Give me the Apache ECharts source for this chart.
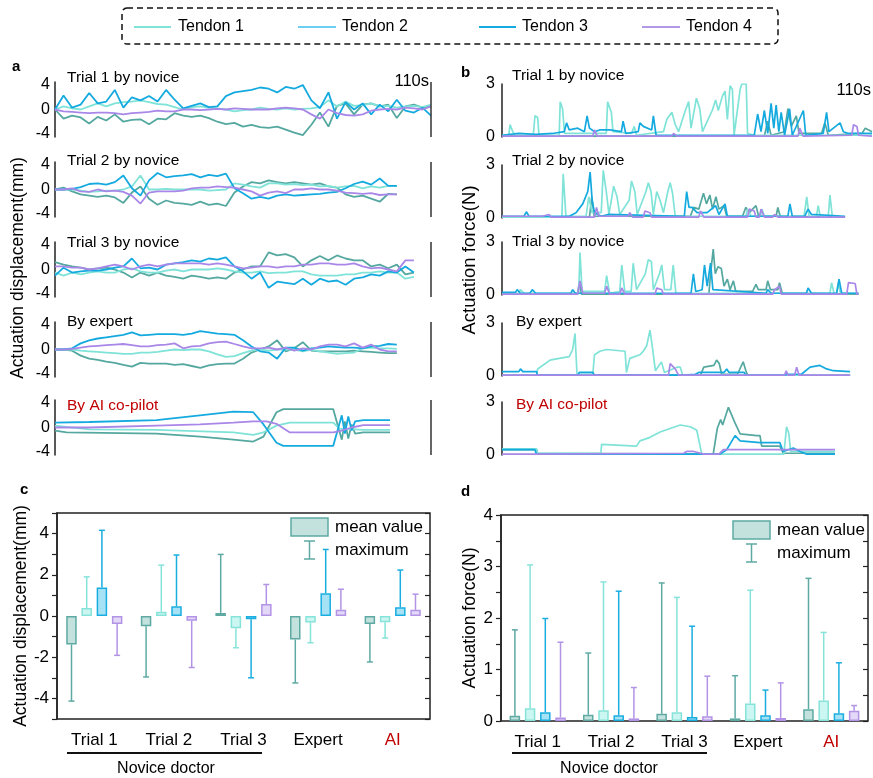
<!DOCTYPE html>
<html>
<head>
<meta charset="utf-8">
<script src="https://cdn.jsdelivr.net/npm/echarts@6/dist/echarts.min.js"></script>
<style>
html,body{margin:0;padding:0;background:#fff;}
#main{width:873px;height:778px;}
</style>
</head>
<body>
<div id="main"></div>
<script>
// 时间网格 (s)
var T = [0,2.5,5,7.5,10,12.5,15,17.5,20,22.5,25,27.5,30,32.5,35,37.5,40,42.5,45,47.5,50,52.5,55,57.5,60,62.5,65,67.5,70,72.5,75,77.5,80,82.5,85,87.5,90,92.5,95,97.5,100,102.5,105,107.5,110];

// a: displacement (mm), values on T
var a1Teal = [0,-1.5,-1,-1.3,-2.3,-1.2,-1.8,-0.8,-2,-1.7,-1.6,-2.4,-1.5,-1.6,-0.6,-1,-1.2,-1,-1.4,-2,-2.4,-2.2,-2.8,-2.5,-2.9,-3,-2.8,-3.3,-3.8,-4.2,-2.5,-0.5,-2.8,0.6,1,-0.8,0.8,1,0.5,0.8,-1.4,0.5,0.8,0.3,0.5];
var a1Aqua = [0,0.5,0.2,0,0.5,1,0.5,1,1.2,1.3,1.5,1.2,0.9,0.8,0.4,0,0.4,0.5,0.3,0.2,0,-0.3,-0.1,0,0.3,0.1,0,0.2,0,0.1,0.2,0.4,1.5,0.5,1.3,0.6,0.7,1,0.5,0.6,0.3,0.5,0.6,0.4,0.8];
var a1Blue = [0,2.3,0.3,0.8,2.7,1,1.3,3.2,0.3,2,1.5,2.2,1.3,3.2,1.6,0.2,0.6,1,0.4,0.5,2.2,2.8,3,3.2,3.6,3.4,2.8,3.7,3.4,4,1.5,0.2,2.8,-1.5,1.2,0,1,-0.8,0.8,-0.3,1.6,-0.2,-0.5,0.3,-1];
var a1Purple = [0,-0.3,-0.4,-0.5,-0.6,-0.5,-0.5,-0.6,-0.8,-0.6,-0.5,-0.4,-0.2,-0.3,-0.3,0,0,-0.1,0,0.1,0,0.2,0.1,0,0,0,0.2,0.3,0.2,0,-0.8,-1.5,0,-0.6,-0.9,-1,-0.8,-0.2,0,0.1,0,0.3,0.2,0,0.5];

var a2Teal = [0,0.3,-0.3,-0.8,-1,-1.2,-1,-1.3,-2.2,-0.5,0.5,-1.5,-2.5,-1.8,-2.2,-2.3,-2.5,-2,-2.5,-2.3,-2.7,-0.5,0.5,1.2,1,1.5,1.2,1,1.2,1,0.8,1,0.5,0.3,-0.8,-1.2,-1,-1.5,-2,-0.7,-0.8];
var a2Aqua = [0,0,0,-0.2,-0.4,-0.3,-0.2,-0.2,0,0.5,2.3,0,0,0.1,0,0,0,0,-0.2,-0.1,0,1,0.8,0.5,0.3,1,1,0.8,0.9,0.7,0.8,0.5,0.6,0.3,0.5,0.6,0.2,0.5,0.3,0.6,0.6];
var a2Blue = [0,0,0.1,0.4,0.9,1,0.8,1.2,2.3,0.2,-1,1.5,2.7,2,2.2,2.3,2.5,2,2.4,2.2,2.6,0.2,-0.6,-1.5,-1.2,-1.5,-1,-0.8,-1,-0.9,-0.8,-0.7,-0.5,-0.4,0.2,0.9,1.3,0.8,1.8,0.6,0.6];
var a2Purple = [0,0,0.2,-0.3,-0.4,0,-0.3,-0.2,-0.4,-1,-2.3,-0.5,-0.3,-0.3,-0.3,-0.2,0.2,0.3,0.3,0.5,0.4,0.3,0,-0.3,-1,-0.5,-0.3,-0.6,0,0,0.2,0,0,-0.2,-0.5,-0.6,-0.7,-0.6,-0.9,-0.8,-0.8];

var a3Teal = [1.2,0.8,0.5,0.3,0,0.2,0.3,0,-0.5,-1.3,-0.5,-1,-0.5,-1,-1.2,-1.5,-1,-1.2,-1.5,-1.3,-1.5,-0.5,0,0.5,0.5,2.8,2.3,2.5,2,0.5,1.5,2.2,1.5,2.3,1.8,1.5,1.5,0.5,0.8,0.2,0.8,-0.8,-0.5];
var a3Aqua = [-0.5,-1,-0.5,-0.8,-0.5,-0.3,-0.5,-0.5,0,0.2,-0.3,-0.5,-0.5,-0.2,0,-0.3,0,0,0,0.2,0,-0.3,-0.5,-0.5,-0.3,-0.6,-0.5,-0.5,-0.3,-0.3,-0.8,-1,-1,-1,-0.8,-0.8,-0.5,-0.5,-0.3,-0.5,-0.5,-1.5,-1.2];
var a3Blue = [-1,0.3,-0.5,-0.3,-0.2,-0.2,0,0.3,0.5,1.8,0.2,0.3,0,0.8,1,1.2,1.5,1.3,1.8,1.6,2,0.5,-0.3,-1.5,-0.5,-3,-2,-2.2,-2.4,-1.5,-2.5,-1.5,-2,-1.8,-2.5,-1.5,-1.3,-0.8,-1,-0.3,-0.5,0.5,-0.5];
var a3Purple = [0.5,0.5,0.3,0.3,0,0.2,0.5,0.8,0.5,0,0.5,0.8,0.5,0.8,1,1,1,1,0.8,1,0.8,0.5,0.2,0.3,0.5,0.5,0.3,0.5,0.5,0.8,0.8,1,1,0.8,0.8,1,0.5,0.2,0.3,0,-0.3,1.5,1.5];

var a4Teal = [0,0,-0.2,-1,-1.5,-1.7,-2,-2.2,-2.5,-2.8,-2.2,-2.3,-2.3,-2.3,-2.5,-2.4,-2.7,-3,-2.6,-2.4,-2.3,-2.3,-1.5,-0.5,0,0.5,1.5,-0.3,0.2,1.2,-0.2,-0.3,-0.3,-0.3,-0.3,-0.2,-0.3,-0.4,-0.5,-0.6,-0.6];
var a4Aqua = [0,0,0,-0.2,-0.3,-0.4,-0.5,-0.6,-0.7,-0.7,-0.5,-0.5,-0.4,-0.2,0,-0.1,0,0,-0.3,-0.8,-1.2,-1.1,-0.6,-0.2,0,-0.2,0,0,0,-0.3,0,-0.3,-0.5,-0.7,-0.6,-0.5,0.2,0.3,0.2,0.2,0.1];
var a4Blue = [0,0,0.2,1,1.5,1.8,2,2.2,2.4,2.8,2.3,2.4,2.5,2.5,2.5,2.4,2.6,3,2.8,2.6,2.5,2.4,1.5,0.5,-0.3,-0.5,-1.5,0.3,0.3,-0.2,0.2,0.3,0.5,0.4,0.3,0.3,0.2,0.5,0.6,0.9,0.8];
var a4Purple = [0,0,0.1,0.3,0.5,0.6,0.7,0.8,0.9,0.7,0.5,0.5,0.7,0.8,1,0.2,0.5,0.6,1,1.2,1.3,0.9,0.5,0.2,0.2,0.3,0,0.3,-0.2,0.2,0,0.5,0.8,0.8,0.5,1,0.3,0.8,0,-0.3,-0.3];

// AI co-pilot: [t, mm]
var a5Teal = [[0,-0.5],[3.4,-0.8],[29.7,-1],[42.4,-1.5],[52.2,-2],[58,-2.3],[61,-1.5],[64.8,2.5],[66.8,3],[81.4,3],[82.9,0],[83.9,-2],[84.8,1],[85.8,-1.8],[86.8,0.5],[87.8,-1],[90.2,-0.8],[98,-0.8]];
var a5Aqua = [[0,0.3],[10,-0.3],[29.7,-0.4],[52.2,-0.8],[58,-1.2],[61,-0.8],[64.8,0.3],[68.7,0.8],[81.4,0.8],[83.3,-0.2],[90.2,-0.4],[98,-0.4]];
var a5Blue = [[0,0.8],[10,0.9],[29.7,1.2],[42.4,2],[52.2,2.6],[58,2.5],[61,0.5],[64.8,-2.5],[66.8,-3],[81.4,-3],[82.9,0],[83.9,2],[84.8,-1],[85.8,1.8],[86.8,-0.5],[87.8,1],[90.2,1.2],[98,1.2]];
var a5Purple = [[0,0],[10,0],[29.7,0.3],[42.4,0.5],[52.2,0.8],[58,1],[61.9,1],[64.8,0.6],[68.7,-0.8],[81.4,-0.8],[83.3,-0.6],[86.8,0],[90.2,0.4],[98,0.4]];

// b: force (N), [t, N]
var b1Teal = [[0,0.05],[78,0.05],[79,0.9],[80,0.1],[84,0.3],[85,1.6],[86,0.6],[87.5,1.2],[88.3,0.2],[95,0.2],[96,0.8],[97,0.1],[107,0.2],[108,0.5],[110,0.3]];
var b1Aqua = [[0,0.1],[2,0.1],[2.4,0.7],[3.2,0.3],[4,0.1],[9.3,0.1],[9.8,1.2],[10.6,1.1],[11,0.1],[17,0.1],[17.3,2],[18,1.6],[18.6,0.2],[31,0.2],[31.4,2],[32.5,1.4],[33,0.3],[38.5,0.2],[39.3,0.6],[40,0.1],[48,0.3],[49,1],[50.5,1.4],[51.5,0.7],[52.5,0.3],[54.5,1.5],[55.5,2],[56.2,0.5],[57.8,2.2],[58.8,1.6],[59.6,0.3],[62.5,1.5],[63.5,2.1],[64.3,1.5],[65.5,2.3],[66.3,2.6],[67,1],[67.8,2.9],[68.5,2.7],[69,0.1],[70.8,2.7],[71.3,3],[72.6,3],[73,0.2],[75,0.1],[110,0.1]];
var b1Blue = [[0,0.1],[5,0.2],[10,0.15],[15,0.2],[18.5,0.3],[19.2,0.8],[20,0.4],[22.5,0.5],[24.5,0.3],[25.3,1.2],[26,0.5],[27.5,0.3],[29,0.4],[32,0.4],[35.5,0.3],[36,0.9],[36.8,0.2],[40.5,0.3],[41,0.8],[42,0.6],[44.5,0.4],[45,1.2],[45.8,0.1],[75,0.1],[76,1.3],[77,0.3],[78,1.5],[79,0.2],[80,1.9],[80.8,0.5],[81.5,1.8],[82.3,0.3],[83,1.4],[84,0.1],[85.5,1.6],[86.3,0.1],[89.6,1.5],[90.3,0.1],[95.5,0.2],[96.5,1.4],[97.2,0.3],[100.5,0.8],[101.5,0.3],[103,0.2],[110,0.2]];
var b1Purple = [[0,0.05],[27,0.05],[27.5,0.4],[28.3,0.05],[50.5,0.05],[51,0.2],[52,0.05],[88,0.05],[88.5,0.5],[89.5,0.05],[104,0.1],[104.5,0.7],[105.5,0.6],[106,0.1],[110,0.05]];

var b2Teal = [[0,0.05],[26,0.05],[26.7,1.2],[27.4,0.1],[56,0.1],[57,0.6],[58.5,0.5],[59.9,1.4],[60.8,0.8],[61.8,1.3],[62.6,0.5],[63.6,1.2],[64.5,0.5],[66,0.7],[66.8,0.1],[71.5,0.1],[72.5,0.6],[73.5,0.3],[75.5,0.7],[76.3,0.1],[81.5,0.1],[82,0.6],[82.7,0.1],[102,0.05]];
var b2Aqua = [[0,0.05],[17.8,0.05],[18.2,2.5],[19,0.1],[25,0.1],[25.8,1.2],[26.8,0.3],[29.5,0.3],[30.1,2.7],[31,1.5],[31.8,0.2],[33.2,1.8],[34.2,1.2],[35,0.2],[37.8,1],[38.5,2.1],[39.5,1.5],[40.2,0.2],[42.8,1.5],[43.5,2],[44.3,1.5],[45,0.2],[46,1.5],[47,1],[48,0.3],[49.3,1.5],[50,2],[50.7,1.4],[51.5,0.1],[72.5,0.1],[73,0.5],[74,0.1],[76.8,0.1],[77.3,0.5],[78,0.1],[89.8,0.1],[90.6,1.2],[91.3,0.1],[93.5,0.1],[94,0.7],[94.6,0.1],[97,0.1],[97.5,1.3],[98.2,0.1],[102,0.05]];
var b2Blue = [[0,0.1],[6.5,0.1],[7.3,0.35],[8,0.1],[20,0.1],[22,0.3],[24,0.8],[25.5,1.5],[26.2,2.6],[26.8,1],[27.5,0.3],[29.5,0.1],[31.5,0.2],[32,0.1],[54.2,0.1],[54.9,1.5],[55.6,0.6],[56.5,0.6],[58,0.3],[61,0.3],[63.5,0.7],[64.5,0.2],[66.3,0.8],[67,0.1],[85,0.1],[85.6,0.8],[86.3,0.1],[90,0.1],[91,0.5],[92,0.2],[102,0.1]];
var b2Purple = [[0,0.1],[4.5,0.1],[5,0.2],[6,0.1],[12,0.1],[12.5,0.2],[14,0.2],[14.5,0.05],[27.5,0.05],[28.1,0.6],[28.8,0.1],[37.5,0.1],[38,0.3],[38.8,0.05],[42,0.05],[42.5,0.4],[44,0.3],[44.5,0.05],[58.5,0.05],[59,0.4],[60,0.05],[73,0.05],[73.5,0.5],[75,0.4],[75.5,0.05],[76.5,0.05],[77,0.5],[78,0.05],[80.5,0.05],[81,0.2],[82,0.05],[102,0.05]];

var b3Teal = [[0,0.05],[22.5,0.05],[23,0.8],[23.6,0.05],[61.5,0.05],[62,1.2],[62.8,2.6],[63.4,1.2],[64.2,1.6],[65.2,1.5],[66,0.5],[67,0.9],[67.8,0.3],[68.8,0.8],[69.5,0.2],[74.5,0.2],[75.5,0.6],[76.2,0.3],[78.5,0.3],[79,0.8],[79.8,0.3],[82,0.3],[82.5,0.7],[83.3,0.1],[106,0.05]];
var b3Aqua = [[0,0.1],[5,0.1],[5.5,0.3],[6.5,0.1],[22.8,0.1],[23.2,2.4],[23.8,0.2],[30.5,0.2],[31.1,1.1],[32,0.1],[35,0.2],[35.6,1.7],[36.5,0.2],[38.4,0.2],[39,1.8],[40,0.3],[42.6,1.2],[43.5,2],[44.4,1.9],[45,0.3],[46.8,1.2],[47.5,1.7],[48.3,0.3],[50.2,0.3],[50.9,1.7],[51.7,0.1],[97.5,0.1],[98,0.7],[98.7,0.1],[99.5,0.1],[100,0.7],[100.6,0.1],[106,0.1]];
var b3Blue = [[0,0.15],[4,0.15],[4.5,0.3],[5.5,0.1],[8.3,0.1],[9,0.3],[10,0.1],[20.5,0.1],[21,0.3],[21.8,0.1],[56.2,0.1],[56.9,1.2],[57.6,0.2],[59.5,0.3],[60.2,1.7],[61,0.5],[62,1.8],[62.7,0.3],[78.5,0.1],[79,0.3],[80,0.1],[90.5,0.1],[91,0.4],[92,0.1],[99.5,0.1],[100.2,0.9],[101,0.1],[106,0.1]];
var b3Purple = [[0,0.05],[22.5,0.05],[23.2,0.8],[24,0.1],[30.5,0.1],[31.1,0.5],[32,0.05],[35,0.05],[35.6,0.4],[36.5,0.05],[45.5,0.05],[46,0.4],[47.5,0.3],[48,0.05],[80.5,0.05],[81,0.3],[82.5,0.5],[83,0.05],[102.5,0.05],[103,0.7],[105,0.65],[105.5,0.05],[106,0.05]];

var b4Teal = [[0,0.05],[59,0.05],[60,0.5],[63,0.6],[63.8,0.9],[64.6,0.7],[65.3,0.1],[70,0.1],[71.7,0.8],[72.5,0.3],[73,0.05],[103.5,0.05]];
var b4Aqua = [[0,0.05],[10.3,0.05],[10.6,0.4],[14.3,0.9],[17,1],[20,1.1],[21,1.5],[21.7,2.4],[22.3,0.1],[27,0.1],[27.5,1.2],[29.1,1.4],[31,1.5],[36.6,1.4],[37,0.2],[38,1],[41,1.2],[42,1.4],[43,1.7],[44,2.6],[44.8,1.5],[45.6,0.3],[47.4,0.8],[48.3,0.2],[52,0.5],[53,0.5],[53.7,0.05],[103.5,0.05]];
var b4Blue = [[0,0.25],[5,0.25],[5.5,0.4],[6.2,0.25],[10.3,0.25],[10.5,0.05],[22.5,0.05],[23,0.2],[27,0.2],[27.5,0.05],[54,0.05],[57.5,0.1],[58.5,0.2],[63,0.2],[66,0.2],[66.8,0.4],[67.5,0.2],[72,0.2],[72.5,0.05],[84,0.05],[85,0.1],[89,0.1],[91.6,0.5],[94.5,0.6],[96.5,0.4],[98.5,0.3],[103.5,0.25]];
var b4Purple = [[0,0.05],[49.5,0.05],[50,0.7],[51.5,0.4],[52.5,0.05],[84,0.05],[84.5,0.3],[85,0.05],[87,0.05],[87.6,0.5],[88.3,0.05],[103.5,0.05]];

var b5Teal = [[0,0.3],[10.3,0.3],[10.5,0.1],[62.8,0.05],[64,1.5],[65,2],[65.6,1.7],[67.3,2.7],[68.2,2.3],[69.3,1.8],[70.8,1.2],[75.7,1.1],[76.7,1.1],[77.2,0.5],[82.6,0.5],[83.6,0.1],[99,0.1]];
var b5Aqua = [[0,0.35],[10.3,0.35],[10.5,0.1],[29.4,0.1],[29.6,0.6],[40,0.5],[41,0.8],[44,1],[47,1.3],[50,1.5],[53,1.7],[56,1.6],[57.9,1.4],[59.4,0.05],[83.8,0.05],[84.6,1.6],[85.3,1.2],[85.8,0.2],[99,0.2]];
var b5Blue = [[0,0.3],[9.8,0.3],[10.2,0.05],[64.8,0.05],[66.8,0.3],[69.3,1.1],[70.8,0.8],[76.7,0.7],[82.6,0.7],[83.6,0.2],[86.6,0.4],[88.6,0.2],[90.6,0.05],[99,0.05]];
var b5Purple = [[0,0.05],[10,0.05],[10.5,0.1],[54,0.1],[54.9,0.2],[57,0.2],[60,0.05],[64.5,0.05],[65.8,0.3],[99,0.3]];

// c / d: mean and maximum per tendon
var groups = ['Trial 1','Trial 2','Trial 3','Expert','AI'];
var cMean1 = [-1.38,-0.5,0.15,-1.14,-0.39];
var cMean2 = [0.39,0.21,-0.6,-0.31,-0.3];
var cMean3 = [1.38,0.47,-0.16,1.11,0.42];
var cMean4 = [-0.39,-0.23,0.58,0.3,0.3];
var cMax1 = [-4.13,-2.96,2.99,-3.25,-2.23];
var cMax2 = [1.9,2.47,-1.54,-1.3,-1.07];
var cMax3 = [4.16,2.96,-3.0,3.23,2.23];
var cMax4 = [-1.91,-2.5,1.53,1.3,1.06];
var dMean1 = [0.1,0.12,0.14,0.05,0.23];
var dMean2 = [0.25,0.21,0.17,0.34,0.4];
var dMean3 = [0.17,0.11,0.08,0.11,0.15];
var dMean4 = [0.07,0.05,0.09,0.06,0.2];
var dMax1 = [1.77,1.32,2.68,0.88,2.77];
var dMax2 = [3.03,2.7,2.4,2.54,1.72];
var dMax3 = [1.99,2.52,1.84,0.6,1.13];
var dMax4 = [1.53,0.65,0.87,0.74,0.3];

var FONT = '"Liberation Sans", Arial, sans-serif';
var lineColors = ['#55a8a0','#7fe3d8','#15aadf','#a987e8'];
var legendColors = ['#7fe3d8','#6ccff2','#15aadf','#b398e6'];
var barFill = ['#c3e1dd','#ccf6f1','#a6e2f6','#e3d8f7'];
var barLine = ['#5eaaa3','#86e3d9','#1aaee0','#b393e6'];

function onGrid(vals){
    return vals.map(function(v,i){ return [T[i], v]; });
}

function label(x, y, str, size, opt){
    opt = opt || {};
    return {
        type:'text', x:x, y:y, rotation:opt.rot || 0, silent:true, z:10,
        style:{text:str, fill:opt.color || '#000', font:(opt.bold ? 'bold ' : '') + size + 'px ' + FONT,
            align:opt.align || 'left', verticalAlign:'middle'}
    };
}
function seg(x1, y1, x2, y2, color, w){
    return {type:'line', silent:true, z:10, shape:{x1:x1,y1:y1,x2:x2,y2:y2}, style:{stroke:color, lineWidth:w}};
}

var leftPanels = [
    {title:'Trial 1 by novice', top:82, ty:78, lines:[onGrid(a1Teal),onGrid(a1Aqua),onGrid(a1Blue),onGrid(a1Purple)]},
    {title:'Trial 2 by novice', top:162, ty:161, lines:[onGrid(a2Teal),onGrid(a2Aqua),onGrid(a2Blue),onGrid(a2Purple)]},
    {title:'Trial 3 by novice', top:242, ty:243, lines:[onGrid(a3Teal),onGrid(a3Aqua),onGrid(a3Blue),onGrid(a3Purple)]},
    {title:'By expert', top:322, ty:322, lines:[onGrid(a4Teal),onGrid(a4Aqua),onGrid(a4Blue),onGrid(a4Purple)]},
    {title:'By AI co-pilot', top:400, ty:406, red:true, lines:[a5Teal,a5Aqua,a5Blue,a5Purple]}
];
var rightPanels = [
    {title:'Trial 1 by novice', top:84, ty:76, tx:512, lines:[b1Teal,b1Aqua,b1Blue,b1Purple]},
    {title:'Trial 2 by novice', top:165, ty:161, tx:512, lines:[b2Teal,b2Aqua,b2Blue,b2Purple]},
    {title:'Trial 3 by novice', top:242, ty:242, tx:512, lines:[b3Teal,b3Aqua,b3Blue,b3Purple]},
    {title:'By expert', top:323, ty:322, tx:516, lines:[b4Teal,b4Aqua,b4Blue,b4Purple]},
    {title:'By AI co-pilot', top:402, ty:405, tx:516, red:true, lines:[b5Teal,b5Aqua,b5Blue,b5Purple]}
];

var grids = [], xAxes = [], yAxes = [], series = [], graphics = [];

leftPanels.forEach(function(p, i){
    grids.push({left:55, top:p.top, width:376, height:55, containLabel:false, outerBoundsMode:'none'});
    xAxes.push({gridIndex:i, type:'value', min:0, max:110, show:false});
    yAxes.push({gridIndex:i, type:'value', min:-4.5, max:4.5,
        axisLine:{show:true, onZero:false, lineStyle:{color:'#222', width:1.5}},
        axisTick:{show:false}, splitLine:{show:false},
        axisLabel:{customValues:[-4,0,4], color:'#000', fontSize:16, fontFamily:FONT, margin:5}});
    p.lines.forEach(function(d, k){
        var s = {type:'line', xAxisIndex:i, yAxisIndex:i, data:d, showSymbol:false, symbol:'none',
            silent:true, animation:false, lineStyle:{color:lineColors[k], width:1.8}, itemStyle:{color:lineColors[k]}};
        if(k === 0){
            s.markLine = {silent:true, symbol:'none', animation:false, label:{show:false},
                lineStyle:{color:'#333', width:1.5, type:'solid'}, data:[{xAxis:110}]};
        }
        series.push(s);
    });
    graphics.push(label(67, p.ty, p.title, 15.5, {color:p.red ? '#c00000' : '#000'}));
});

rightPanels.forEach(function(p, j){
    var i = j + 5;
    grids.push({left:502, top:p.top, width:370, height:53, containLabel:false, outerBoundsMode:'none'});
    xAxes.push({gridIndex:i, type:'value', min:0, max:110, show:false});
    yAxes.push({gridIndex:i, type:'value', min:0, max:3, interval:3,
        axisLine:{show:true, onZero:false, lineStyle:{color:'#222', width:1.5}},
        axisTick:{show:false}, splitLine:{show:false},
        axisLabel:{color:'#000', fontSize:16, fontFamily:FONT, margin:7}});
    p.lines.forEach(function(d, k){
        series.push({type:'line', xAxisIndex:i, yAxisIndex:i, data:d, showSymbol:false, symbol:'none',
            silent:true, animation:false, lineStyle:{color:lineColors[k], width:1.7}, itemStyle:{color:lineColors[k]}});
    });
    graphics.push(label(p.tx, p.ty, p.title, 15.5, {color:p.red ? '#c00000' : '#000'}));
});

// 误差线
function whisker(offset, color){
    return function(params, api){
        var p0 = api.coord([api.value(0), api.value(1)]);
        var p1 = api.coord([api.value(0), api.value(2)]);
        var x = p0[0] + offset;
        return {type:'group', children:[
            {type:'line', shape:{x1:x, y1:p0[1], x2:x, y2:p1[1]}, style:{stroke:color, lineWidth:1.5}},
            {type:'line', shape:{x1:x - 3, y1:p1[1], x2:x + 3, y2:p1[1]}, style:{stroke:color, lineWidth:1.5}}
        ]};
    };
}

function barPanel(gi, box, yOpt, means, maxs){
    grids.push({left:box[0], top:box[1], width:box[2], height:box[3], show:true, borderColor:'#222', borderWidth:1.5,
        backgroundColor:'transparent', containLabel:false, outerBoundsMode:'none'});
    xAxes.push({gridIndex:gi, type:'category', data:groups,
        axisLine:{show:false, onZero:false}, axisTick:{show:false},
        axisLabel:{fontSize:17, fontFamily:FONT, margin:13, color:function(v){ return v === 'AI' ? '#c00000' : '#000'; }}});
    yAxes.push({gridIndex:gi, type:'value', min:yOpt.min, max:yOpt.max, interval:yOpt.step,
        name:yOpt.name, nameLocation:'middle', nameGap:yOpt.gap,
        nameTextStyle:{fontSize:17.5, color:'#000', fontFamily:FONT},
        axisLine:{show:true, onZero:false, lineStyle:{color:'#222', width:1.5}},
        axisTick:{show:true, length:5, lineStyle:{color:'#222', width:1.2}},
        splitLine:{show:false},
        axisLabel:{color:'#000', fontSize:17, fontFamily:FONT, margin:8, formatter:yOpt.fmt}});
    yAxes.push({gridIndex:gi, type:'value', position:'right', min:yOpt.min, max:yOpt.max, interval:yOpt.step,
        axisLine:{show:false}, axisTick:{show:true, inside:true, length:5, lineStyle:{color:'#222', width:1.2}},
        axisLabel:{show:false}, splitLine:{show:false}});
    var yi = yAxes.length - 2;
    means.forEach(function(m, k){
        series.push({type:'bar', xAxisIndex:gi, yAxisIndex:yi, data:m, barWidth:10.5, barGap:'45%',
            silent:true, animation:false,
            itemStyle:{color:barFill[k], borderColor:barLine[k], borderWidth:1.5}});
    });
    means.forEach(function(m, k){
        series.push({type:'custom', xAxisIndex:gi, yAxisIndex:yi, silent:true, animation:false, z:3,
            renderItem:whisker((k - 1.5) * 15.2, barLine[k]), encode:{x:0, y:[1,2]},
            data:m.map(function(v, i){ return [i, v, maxs[k][i]]; })});
    });
}

barPanel(10, [57, 513, 373, 206],
    {min:-5, max:5, step:1, gap:24, name:'Actuation displacement(mm)', fmt:function(v){ return v % 2 === 0 ? String(v) : ''; }},
    [cMean1, cMean2, cMean3, cMean4], [cMax1, cMax2, cMax3, cMax4]);
barPanel(11, [501, 515, 367, 206],
    {min:0, max:4, step:0.5, gap:18, name:'Actuation force(N)', fmt:function(v){ return v % 1 === 0 ? String(v) : ''; }},
    [dMean1, dMean2, dMean3, dMean4], [dMax1, dMax2, dMax3, dMax4]);

// 顶部图例
graphics.push({type:'rect', silent:true, shape:{x:122, y:8, width:656, height:36, r:5},
    style:{fill:'none', stroke:'#111', lineWidth:1.5, lineDash:[6,4]}});
[[134,171,178],[298,336,342],[479,516,522],[642,680,686]].forEach(function(p, k){
    graphics.push(seg(p[0], 27, p[1], 27, legendColors[k], 2.2));
    graphics.push(label(p[2], 27, 'Tendon ' + (k + 1), 16));
});

// 面板标注
graphics.push(label(12, 67, 'a', 15, {bold:true}));
graphics.push(label(461, 73, 'b', 15, {bold:true}));
graphics.push(label(20, 490, 'c', 15, {bold:true}));
graphics.push(label(461, 492, 'd', 15, {bold:true}));
graphics.push(label(429, 81, '110s', 16.5, {align:'right'}));
graphics.push(label(871, 90, '110s', 16.5, {align:'right'}));
graphics.push(label(18, 268, 'Actuation displacement(mm)', 17.5, {align:'center', rot:Math.PI / 2}));
graphics.push(label(470, 260, 'Actuation force(N)', 18.5, {align:'center', rot:Math.PI / 2}));

// 柱状图图例
[[291, 518, 335], [733, 521, 777]].forEach(function(g){
    var x = g[0], y = g[1];
    graphics.push({type:'rect', silent:true, z:10, shape:{x:x, y:y, width:37, height:18},
        style:{fill:barFill[0], stroke:barLine[0], lineWidth:1.5}});
    graphics.push(label(g[2], y + 9, 'mean value', 17));
    graphics.push(seg(x + 18.5, y + 23, x + 18.5, y + 41, barLine[0], 1.5));
    graphics.push(seg(x + 13, y + 23, x + 24, y + 23, barLine[0], 1.5));
    graphics.push(seg(x + 13, y + 41, x + 24, y + 41, barLine[0], 1.5));
    graphics.push(label(g[2], y + 32, 'maximum', 17));
});

// Novice doctor
graphics.push(seg(67, 753, 262, 753, '#111', 2));
graphics.push(label(166, 769, 'Novice doctor', 16, {align:'center'}));
graphics.push(seg(512, 753, 707, 753, '#111', 2));
graphics.push(label(609, 769, 'Novice doctor', 16, {align:'center'}));

var chart = echarts.init(document.getElementById('main'));
chart.setOption({
    animation:false,
    backgroundColor:'#fff',
    grid:grids,
    xAxis:xAxes,
    yAxis:yAxes,
    series:series,
    graphic:graphics
});
</script>
</body>
</html>
